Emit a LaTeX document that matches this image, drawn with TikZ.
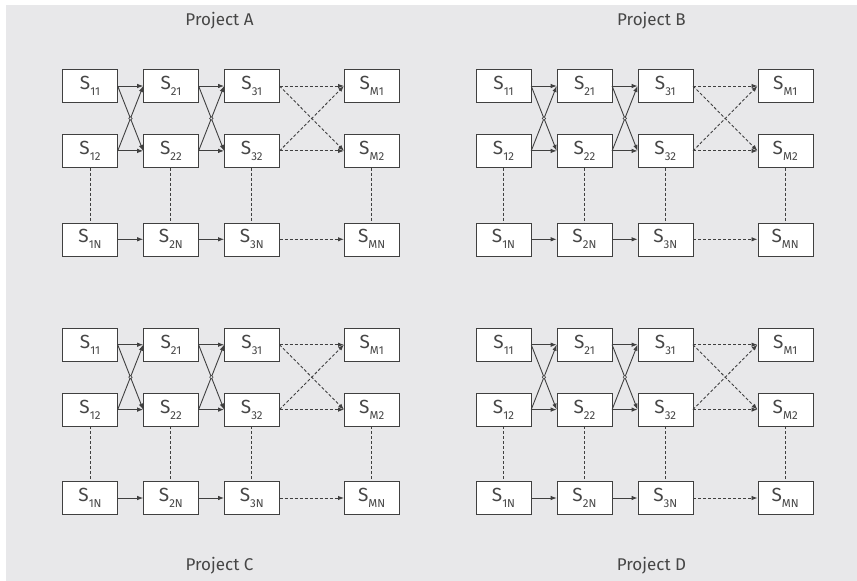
\documentclass[tikz,border=0pt]{standalone}
\usepackage{fontspec}
\setmainfont{Fira Sans}
\usetikzlibrary{positioning,arrows.meta}
\definecolor{panelgrey}{RGB}{232,232,234}
\definecolor{linegrey}{RGB}{64,64,64}
\definecolor{textgrey}{RGB}{70,70,70}
\newcommand{\idx}[1]{\raisebox{-6pt}{\fontsize{11.5}{12}\selectfont #1}}

\begin{document}
\begin{tikzpicture}[x=1pt, y=-1pt, every node/.style={text=textgrey},
    stage/.style={rectangle, draw=linegrey, fill=white, minimum width=55pt, minimum height=33pt, inner sep=0pt, font=\fontsize{19}{20}\selectfont},
    title/.style={font=\fontsize{17}{18}\selectfont},
    flow/.style={-{Latex[length=6pt,width=4.5pt]}, draw=linegrey, line width=0.9pt},
    later/.style={flow, dash pattern=on 3pt off 2pt},
    link/.style={draw=linegrey, line width=0.9pt, dash pattern=on 3pt off 2pt},
    hop/.style={circle, draw=linegrey, fill=panelgrey, inner sep=0pt, minimum size=3.5pt, line width=0.6pt}]
    \useasboundingbox (0,0) rectangle (857,581);
    % four panels
    \fill[panelgrey] (6,5) rectangle (431.6,285.6);
    \fill[panelgrey] (432.4,5) rectangle (857,285.6);
    \fill[panelgrey] (6,286.4) rectangle (431.6,581);
    \fill[panelgrey] (432.4,286.4) rectangle (857,581);
    \foreach \p/\px/\py/\tx/\ty in {A/0/0/219.5/20.7, B/413.5/0/651.5/20.7, C/0/258.7/219.5/566, D/413.5/258.7/651.5/566}{
      \node[title] (title-\p) at (\tx,\ty) {Project \p};
      \begin{scope}[shift={(\px,\py)}]
        \node[stage] (\p-11) at (90,86) {S\idx{11}};
        \node[stage, right=25.5pt of \p-11] (\p-21) {S\idx{21}};
        \node[stage, right=25.5pt of \p-21] (\p-31) {S\idx{31}};
        \node[stage, right=64.5pt of \p-31] (\p-M1) {S\idx{M1}};
        \node[stage, below=31.5pt of \p-11] (\p-12) {S\idx{12}};
        \node[stage, below=31.5pt of \p-21] (\p-22) {S\idx{22}};
        \node[stage, below=31.5pt of \p-31] (\p-32) {S\idx{32}};
        \node[stage, below=31.5pt of \p-M1] (\p-M2) {S\idx{M2}};
        \node[stage, below=55pt of \p-12] (\p-1N) {S\idx{1N}};
        \node[stage, below=55pt of \p-22] (\p-2N) {S\idx{2N}};
        \node[stage, below=55pt of \p-32] (\p-3N) {S\idx{3N}};
        \node[stage, below=55pt of \p-M2] (\p-MN) {S\idx{MN}};
        % stage to stage
        \draw[flow] (\p-11.east) -- (\p-21.west);
        \draw[flow] (\p-11.east) -- (\p-22.west);
        \draw[flow] (\p-12.east) -- (\p-21.west);
        \draw[flow] (\p-12.east) -- (\p-22.west);
        \draw[flow] (\p-21.east) -- (\p-31.west);
        \draw[flow] (\p-21.east) -- (\p-32.west);
        \draw[flow] (\p-22.east) -- (\p-31.west);
        \draw[flow] (\p-22.east) -- (\p-32.west);
        \draw[later] (\p-31.east) -- (\p-M1.west);
        \draw[later] (\p-31.east) -- (\p-M2.west);
        \draw[later] (\p-32.east) -- (\p-M1.west);
        \draw[later] (\p-32.east) -- (\p-M2.west);
        \draw[flow] (\p-1N) -- (\p-2N);
        \draw[flow] (\p-2N) -- (\p-3N);
        \draw[later] (\p-3N) -- (\p-MN);
        % skipped rows
        \draw[link] (\p-12) -- (\p-1N);
        \draw[link] (\p-22) -- (\p-2N);
        \draw[link] (\p-32) -- (\p-3N);
        \draw[link] (\p-M2) -- (\p-MN);
        % line hops
        \path (\p-11.east) -- (\p-22.west) node[hop, pos=0.5] (\p-h1) {};
        \path (\p-21.east) -- (\p-32.west) node[hop, pos=0.5] (\p-h2) {};
      \end{scope}
    }
\end{tikzpicture}
\end{document}
